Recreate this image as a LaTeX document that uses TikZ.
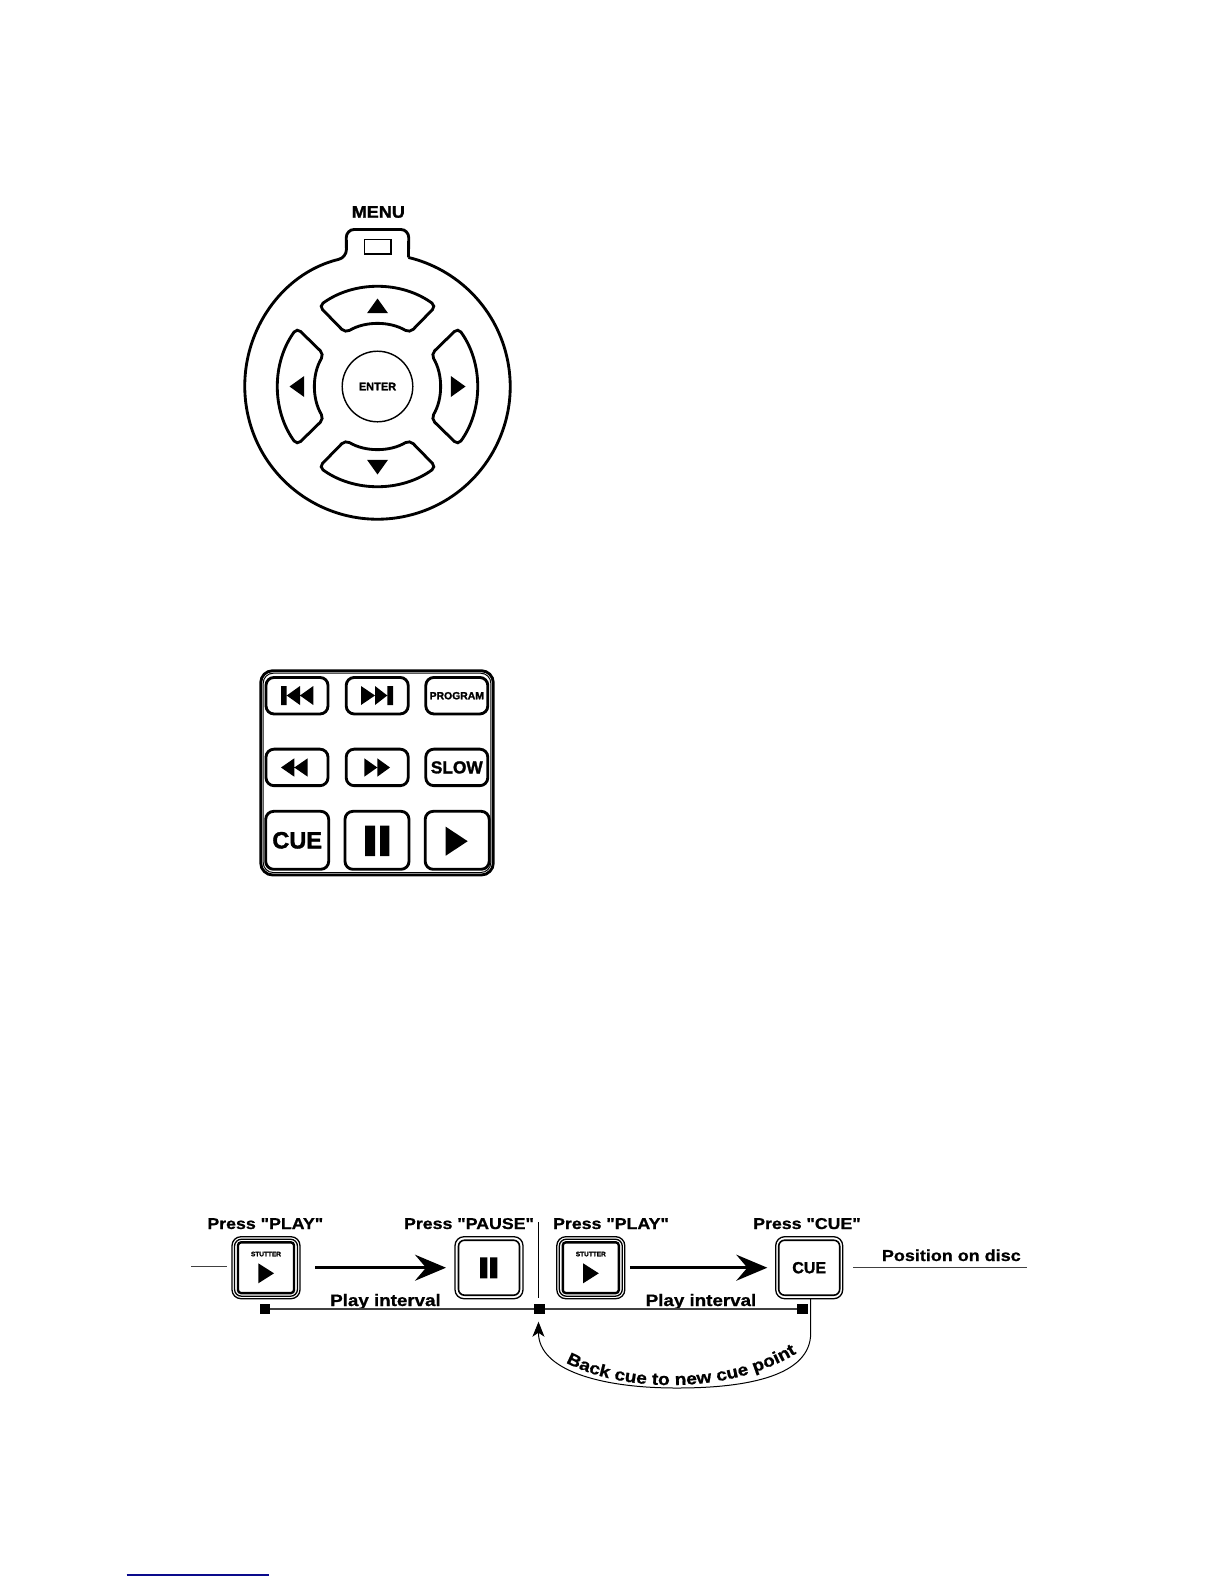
\documentclass[tikz,border=0pt]{standalone}
\usepackage{fontspec}
\usetikzlibrary{arrows.meta,decorations.text}
\newfontfamily\keyfont[FakeBold=1.6]{Liberation Sans Bold}
\newfontfamily\menufont[FakeStretch=1.08,FakeBold=1.6]{Liberation Sans Bold}
\newfontfamily\pressfont[FakeStretch=1.13,FakeBold=0.9]{Liberation Sans Bold}
\newcommand{\fsz}[1]{\fontsize{#1}{#1}\selectfont}
\definecolor{linkblue}{RGB}{10,10,140}
\tikzset{
  keybtn/.style={draw, line width=1mm, rounded corners=8pt, minimum width=62pt, minimum height=36.5pt, inner sep=0pt, outer sep=0pt, font=\keyfont},
  pressbtn/.style={draw, line width=1.3pt, rounded corners=9pt, minimum width=68pt, minimum height=62pt, inner sep=0pt, outer sep=0pt, font=\keyfont\fsz{16}},
  ringbtn/.style={draw, line width=1.6pt, rounded corners=6pt, minimum width=61pt, minimum height=55pt, inner sep=0pt, outer sep=0pt},
  presslabel/.style={inner sep=0pt, font=\pressfont\fsz{15.7}, anchor=base},
  marker/.style={fill=black, minimum size=10.5pt, inner sep=0pt, outer sep=0pt},
  movearrow/.style={line width=2.8pt, -{Stealth[length=31pt,width=26pt,inset=11pt]}},
  thinline/.style={line width=1.2pt, black!75}
}
\begin{document}
\begin{tikzpicture}[x=1pt,y=-1pt]
\useasboundingbox (0,0) rectangle (1224,1584);
\fill[white] (0,0) rectangle (1224,1584);
\node[inner sep=0pt, font=\menufont\fsz{16.7}] (menulabel) at (378.3,212) {MENU};
\begin{scope}[shift={(377.5,386.5)}, yscale=-1, line width=1mm]
\draw[rounded corners=8pt] (76.5:132.7) -- (31.3,157) -- (-31.3,157) -- (103.5:132.7)
  arc[start angle=103.5, end angle=436.5, radius=132.7];
\draw[line width=.4mm] (-13,147) rectangle (13.5,132.5);
\node[draw, circle, line width=.5mm, minimum size=70.6pt, inner sep=0pt, font=\keyfont\fsz{11}] (enterbtn) at (0,0) {ENTER};
\foreach \ang in {0,90,180,270} {
  \draw[rotate=\ang, line width=1mm, rounded corners=5pt] (54:99.5)
    arc[start angle=54, end angle=126, radius=99.5] -- (121:62.5)
    arc[start angle=121, end angle=59, radius=62.5] -- cycle;
  \fill[rotate=\ang] (-10.5,73.3) -- (10.5,73.3) -- (0,88) -- cycle;
}
\end{scope}
\draw[line width=1mm, rounded corners=12pt] (260.7,670.7) rectangle (493.3,875);
\draw[line width=.35mm, rounded corners=10pt] (263.2,673.2) rectangle (490.8,872.5);
\node[keybtn] (prevbtn) at (297,695.7) {};
\node[keybtn] (nextbtn) at (377.2,695.7) {};
\node[keybtn, font=\keyfont\fsz{10.4}] (programbtn) at (456.8,695.7) {PROGRAM};
\node[keybtn] (rewbtn) at (297,767.4) {};
\node[keybtn] (fwdbtn) at (377.2,767.4) {};
\node[keybtn, font=\keyfont\fsz{17.3}] (slowbtn) at (456.8,767.4) {SLOW};
\node[keybtn, minimum height=58pt, minimum width=63pt, font=\keyfont\fsz{23.5}] (cuebtn) at (297.2,840.3) {CUE};
\node[keybtn, minimum height=58pt, minimum width=64pt] (pausebtn) at (377,840.3) {};
\node[keybtn, minimum height=58pt, minimum width=64pt] (playbtn) at (457.2,840.3) {};
\fill (281,686) rectangle (286.7,705) (286.7,695.5) -- (300,686) -- (300,705) -- cycle (300,695.5) -- (313.3,686) -- (313.3,705) -- cycle;
\fill (387.3,686) rectangle (393,705) (387.3,695.5) -- (375,686) -- (375,705) -- cycle (375,695.5) -- (361,686) -- (361,705) -- cycle;
\fill (281,767.5) -- (294.3,758.3) -- (294.3,776.7) -- cycle (294.3,767.5) -- (307.7,758.3) -- (307.7,776.7) -- cycle;
\fill (377.3,767.5) -- (364.3,758.3) -- (364.3,776.7) -- cycle (390,767.5) -- (377.3,758.3) -- (377.3,776.7) -- cycle;
\fill (365,825.7) rectangle (375,856) (380,825.7) rectangle (389.3,856);
\fill (445.7,826.7) -- (467.7,841.2) -- (445.7,855.7) -- cycle;
\foreach \nm/\cx in {playa/266,playb/590.8} {
  \node[pressbtn] (\nm) at (\cx,1267.7) {};
  \node[pressbtn, minimum width=63pt, minimum height=57pt, rounded corners=7pt] (\nm ring) at (\cx,1267.7) {};
  \node[ringbtn, line width=2.4pt, minimum width=56pt, minimum height=50.7pt, rounded corners=3pt] (\nm face) at (\cx,1267.7) {};
  \node[inner sep=0pt, font=\keyfont\fsz{6.5}] (\nm text) at (\cx,1254) {STUTTER};
  \fill (\cx-7.7,1263.3) -- (\cx+8,1273.3) -- (\cx-7.7,1283.3) -- cycle;
}
\node[pressbtn] (pausea) at (489,1267.7) {};
\node[ringbtn] (pausearing) at (pausea) {};
\fill (480,1257.3) rectangle (487.3,1278.3) (490,1257.3) rectangle (497.3,1278.3);
\node[pressbtn, minimum width=67pt] (cuea) at (809.2,1267.7) {CUE};
\node[ringbtn] (cuearing) at (cuea) {};
\node[presslabel] (pressplaya) at (265.3,1229) {Press "PLAY"};
\node[presslabel] (presspause) at (469,1229) {Press "PAUSE"};
\node[presslabel] (pressplayb) at (611,1229) {Press "PLAY"};
\node[presslabel] (presscue) at (807,1229) {Press "CUE"};
\node[presslabel, font=\pressfont\fsz{15.9}] (disclabel) at (951.3,1261) {Position on disc};
\node[presslabel, font=\pressfont\fsz{16.6}] (intervala) at (385.5,1306) {Play interval};
\node[presslabel, font=\pressfont\fsz{16.6}] (intervalb) at (701,1306) {Play interval};
\node[marker] (marka) at (265.2,1309) {};
\node[marker] (markb) at (539.5,1309) {};
\node[marker] (markc) at (802.5,1309) {};
\coordinate (lefta) at (191,1266.7);
\coordinate (leftb) at (226.7,1266.7);
\coordinate (righta) at (853.3,1267.7);
\coordinate (rightb) at (1026.7,1267.7);
\coordinate (dividera) at (538,1222.3);
\coordinate (dividerb) at (538,1298.3);
\coordinate (linka) at (126.7,1575);
\coordinate (linkb) at (269,1575);
\draw[thinline, line width=.8pt] (lefta) -- (leftb);
\draw[thinline, line width=1.4pt] (righta) -- (rightb);
\draw[line width=1pt] (dividera) -- (dividerb);
\draw[thinline, line width=1.5pt] (marka) -- (markb);
\draw[thinline, line width=1.5pt] (markb) -- (markc);
\draw[movearrow, shorten <=15.3pt, shorten >=9pt] (playa) -- (pausea);
\draw[movearrow, shorten <=5pt, shorten >=8.4pt] (playb) -- (cuea);
\draw[line width=1pt, -{Stealth[length=15pt,width=12pt,inset=4pt]}] (cuea.south -| 810.7,0) -- (810.7,1333)
  .. controls (810.7,1375) and (750,1388) .. (676.7,1388)
  .. controls (600,1388) and (538.3,1370) .. (538.5,1321.7);
\path[decorate, decoration={text along path, text align=center,
  text={|\pressfont\fsz{16.9}|Back cue to new cue point}}]
  (552,1354) .. controls (610,1396) and (740,1398) .. (810,1344);
\draw[linkblue, line width=1.5pt] (linka) -- (linkb);
\end{tikzpicture}
\end{document}
